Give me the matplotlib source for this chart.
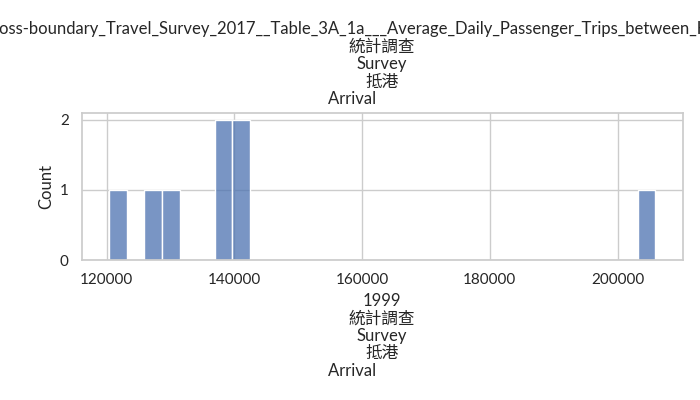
import matplotlib
matplotlib.use('Agg')
import matplotlib.pyplot as plt
import seaborn as sns
import pandas as pd

# arrivals per survey
arrivals = [120400, 127500, 130000, 138500, 139200, 140800, 141600, 205900]
n_bins = 31

title = ("Cross-boundary_Travel_Survey_2017__Table_3A_1a___Average_Daily_"
         "Passenger_Trips_between_Hong_Kong"
         "\n統計調查\nSurvey\n抵港\nArrival" + " " * 14)
xlabel = "1999\n統計調查\nSurvey\n抵港\nArrival" + " " * 14

sns.set_theme(style="whitegrid")
plt.rcParams['font.family'] = ['Lato', 'Noto Sans CJK TC']

df = pd.DataFrame({"arrival": arrivals})

fig, ax = plt.subplots(figsize=(7, 4), dpi=100)
sns.histplot(data=df, x="arrival", bins=n_bins, ax=ax)
ax.set_title(title, linespacing=1.12)
ax.set_xlabel(xlabel, linespacing=1.12)
ax.set_ylabel("Count")
ax.set_yticks([0, 1, 2])

fig.subplots_adjust(left=0.117, right=0.975, top=0.718, bottom=0.35)
fig.savefig("out.png")
